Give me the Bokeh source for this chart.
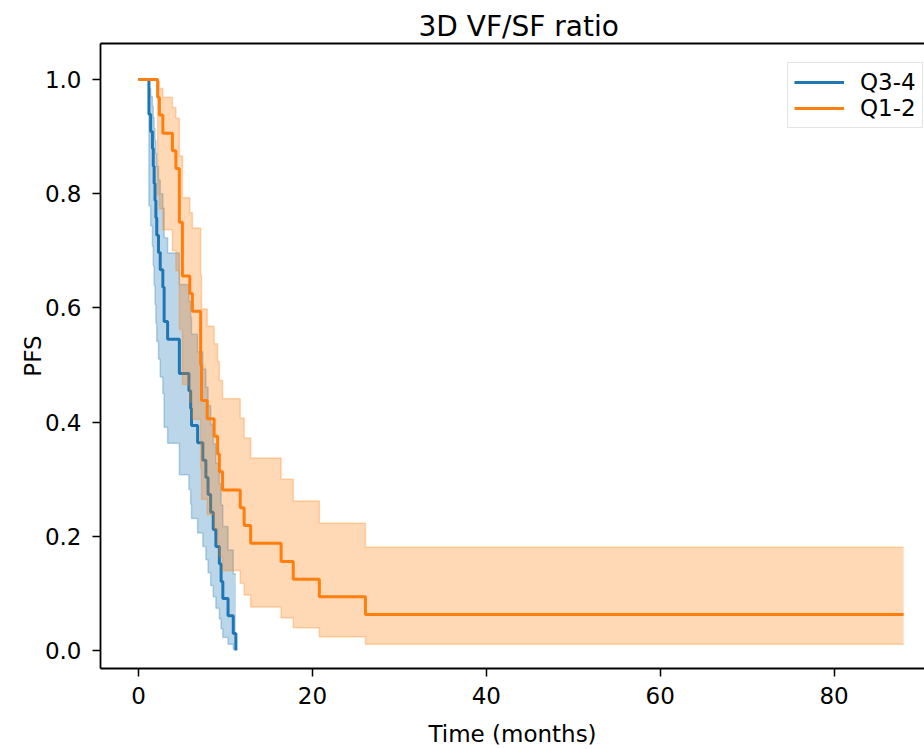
from bokeh.plotting import figure
from bokeh.models import Range1d, FixedTicker, PrintfTickFormatter, LinearAxis
from bokeh.embed import file_html
from bokeh.resources import INLINE

# ---------------- data ----------------
title_text = "3D VF/SF ratio"
x_label = "Time (months)"
y_label = "PFS"
x_ticks = [0, 20, 40, 60, 80]
y_ticks = [0.0, 0.2, 0.4, 0.6, 0.8, 1.0]

# Q3-4 (blue): Kaplan-Meier step estimate and its confidence band
q34_time = [0, 1.2, 1.4, 1.6, 1.7, 1.8, 1.9, 2.0, 2.1, 2.3, 2.5, 2.8, 2.95, 3.35, 4.7,
            5.8, 6.0, 6.1, 6.8, 7.4, 7.75, 8.0, 8.3, 8.6, 8.9, 9.3, 9.5, 9.7, 10.3, 10.9, 11.2]
q34_pfs = [1.0, .939, .909, .879, .848, .818, .788, .758, .727, .697, .667, .636, .576, .545, .485,
           .455, .424, .394, .364, .333, .303, .273, .242, .212, .182, .152, .121, .091, .061, .030, 0.0]
q34_lo = [1.0, .779, .744, .708, .674, .639, .606, .573, .541, .510, .479, .450, .391, .363, .308,
          .282, .256, .231, .206, .182, .159, .136, .114, .094, .074, .055, .038, .023, .011, .002, .002]
q34_hi = [1.0, .984, .970, .953, .934, .914, .893, .871, .848, .824, .800, .775, .723, .696, .641,
          .612, .583, .554, .523, .493, .461, .429, .396, .362, .328, .292, .255, .217, .176, .134, .134]

# Q1-2 (orange)
q12_time = [0, 2.2, 2.4, 2.8, 3.9, 4.3, 4.7, 5.05, 5.9, 6.2, 7.15, 7.25, 7.9, 8.7, 9.1, 9.3, 9.67,
            11.7, 12.15, 12.9, 16.4, 17.8, 20.8, 26.1, 88.0]
q12_pfs = [1.0, .969, .938, .906, .875, .844, .750, .656, .625, .594, .500, .438, .406, .375, .344, .313, .281,
           .250, .219, .188, .156, .125, .094, .063, .063]
q12_lo = [1.0, .798, .773, .737, .700, .665, .562, .466, .435, .405, .319, .265, .238, .213, .188, .164, .140,
          .118, .097, .076, .057, .040, .024, .011, .011]
q12_hi = [1.0, .996, .984, .969, .951, .932, .866, .793, .767, .740, .657, .598, .568, .537, .506, .473, .441,
          .407, .372, .337, .300, .262, .223, .181, .181]

BLUE = "#1f77b4"
ORANGE = "#ff7f0e"
FONT = "DejaVu Sans"
TICK_FS = "23px"

p = figure(width=924, height=749, output_backend="svg", toolbar_location=None,
           x_range=Range1d(-4.37, 90.4), y_range=Range1d(-0.0315, 1.063),
           min_border_left=100, min_border_right=0, min_border_top=43, min_border_bottom=78)

p.title.text = title_text
p.title.align = "left"
p.title.offset = 318
p.title.text_font = FONT
p.title.text_font_size = "28px"
p.title.text_font_style = "normal"
p.title.text_color = "black"
p.title.standoff = 2

p.grid.visible = False
p.outline_line_color = None
p.background_fill_color = "white"
p.border_fill_color = "white"

for ax in (p.xaxis[0], p.yaxis[0]):
    ax.major_label_text_font = FONT
    ax.major_label_text_font_size = TICK_FS
    ax.major_label_text_color = "black"
    ax.axis_label_text_font = FONT
    ax.axis_label_text_font_size = TICK_FS
    ax.axis_label_text_font_style = "normal"
    ax.axis_label_text_color = "black"
    ax.major_tick_out = 8
    ax.major_tick_in = 0
    ax.major_tick_line_width = 1.5
    ax.minor_tick_line_color = None
    ax.axis_line_width = 1.8
    ax.axis_line_color = "black"
    ax.major_tick_line_color = "black"

p.xaxis.ticker = FixedTicker(ticks=x_ticks)
p.xaxis.axis_label = x_label
p.xaxis.major_label_standoff = 10
p.xaxis.axis_label_standoff = 14

p.yaxis.ticker = FixedTicker(ticks=y_ticks)
p.yaxis.formatter = PrintfTickFormatter(format="%.1f")
p.yaxis.axis_label = y_label
p.yaxis.major_label_standoff = 11
p.yaxis.axis_label_standoff = -4

top_axis = LinearAxis(ticker=FixedTicker(ticks=[]), major_label_text_font_size="0px",
                      major_tick_line_color=None, minor_tick_line_color=None,
                      axis_line_width=1.8, axis_line_color="black")
p.add_layout(top_axis, "above")

def draw(times, pfs, lo, hi, color, label):
    p.step(times, pfs, mode="after", line_color=color, line_width=3, legend_label=label)
    p.varea_step(x=times, y1=lo, y2=hi, step_mode="after", fill_color=color, fill_alpha=0.3)
    p.step(times, lo, mode="after", line_color=color, line_width=1.5, line_alpha=0.3)
    p.step(times, hi, mode="after", line_color=color, line_width=1.5, line_alpha=0.3)

draw(q34_time, q34_pfs, q34_lo, q34_hi, BLUE, "Q3-4")
draw(q12_time, q12_pfs, q12_lo, q12_hi, ORANGE, "Q1-2")

lg = p.legend[0]
lg.location = (687, 540)
lg.label_text_font = FONT
lg.label_text_font_size = TICK_FS
lg.label_text_color = "black"
lg.glyph_width = 50
lg.glyph_height = 20
lg.label_height = 20
lg.label_standoff = 16
lg.spacing = -3
lg.padding = 6
lg.margin = 0
lg.border_line_color = "#cccccc"
lg.border_line_width = 1.5
lg.background_fill_alpha = 0.8

open("out.html", "w").write(file_html(p, INLINE))
